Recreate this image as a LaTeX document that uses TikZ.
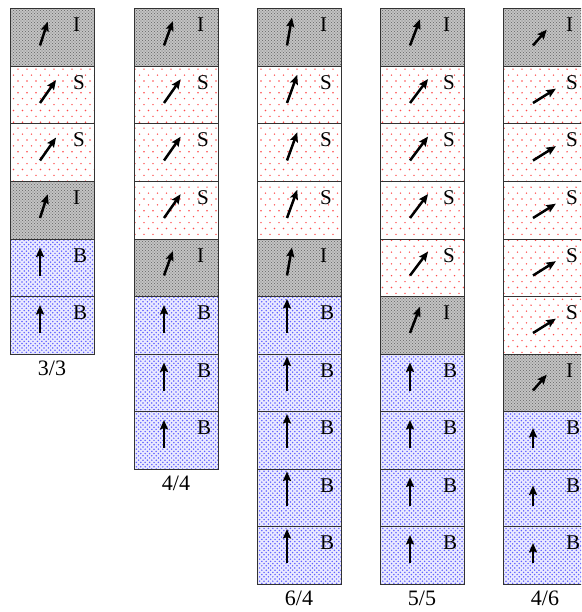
\documentclass[tikz,border=0pt]{standalone}
\usepackage{fontspec}
\setmainfont{Liberation Serif}
\usetikzlibrary{arrows.meta,calc,patterns.meta}

% dot fills for the three kinds of layer
\tikzdeclarepattern{name=fine dots, type=uncolored,
  bounding box={(-1pt,-1pt) and (2.5pt,2.5pt)}, tile size={(3pt,3pt)},
  code={\fill (0pt,0pt) circle (0.6pt); \fill (1.5pt,1.5pt) circle (0.6pt);}}
\tikzdeclarepattern{name=medium dots, type=uncolored,
  bounding box={(-1pt,-1pt) and (3.5pt,3.5pt)}, tile size={(4.4pt,4.4pt)},
  code={\fill (0pt,0pt) circle (0.85pt); \fill (2.2pt,2.2pt) circle (0.85pt);}}
\tikzdeclarepattern{name=sparse dots, type=uncolored,
  bounding box={(-1pt,-1pt) and (5.5pt,7pt)}, tile size={(9pt,11.8pt)},
  code={\fill (0pt,0pt) circle (0.8pt); \fill (4.5pt,5.9pt) circle (0.8pt);}}

\begin{document}
\begin{tikzpicture}[x=1pt, y=1pt,
  cell/.style={draw=black!80, line width=1pt, minimum width=84pt, minimum height=57.5pt,
    anchor=north west, inner sep=0pt, outer sep=0pt},
  I-cell/.style={preaction={fill=black!22}, pattern={fine dots}, pattern color=black!55},
  S-cell/.style={preaction={fill=white}, pattern={sparse dots}, pattern color=red!70},
  B-cell/.style={preaction={fill=blue!8}, pattern={medium dots}, pattern color=blue!62},
  tag/.style={font=\fontsize{21}{23}\selectfont, anchor=base west, inner sep=0pt},
  caption/.style={font=\fontsize{22}{24}\selectfont, anchor=base, inner sep=0pt},
  spin/.style={-{Stealth[length=9.5pt,width=8pt,inset=1.5pt]}, line width=2.5pt},
]
  \useasboundingbox (0,0) rectangle (581,-612);
  \clip (0,0) rectangle (581,-612);

  % column / left edge / layers / count / caption / angle and length of I, S, B
  \foreach \col/\x/\kinds/\nb/\fa/\fb/\aI/\lI/\aS/\lS/\lB in {
    1/10/{I,S,S,I,B,B}/6/3/3/72/25/55/28/28,
    2/134/{I,S,S,S,I,B,B,B}/8/4/4/70/26/55/29/28,
    3/257/{I,S,S,S,I,B,B,B,B,B}/10/6/4/80/28.5/70/30/34,
    4/380/{I,S,S,S,S,I,B,B,B,B}/10/5/5/69/28/53/30/28,
    5/503/{I,S,S,S,S,S,I,B,B,B}/10/4/6/49/21/32/27/20}
  {
    \edef\angI{\aI}\edef\lenI{\lI}
    \edef\angS{\aS}\edef\lenS{\lS}
    \def\angB{90}\edef\lenB{\lB}
    \foreach \kind [count=\n] in \kinds {
      \edef\spinang{\csname ang\kind\endcsname}
      \edef\spinlen{\csname len\kind\endcsname}
      \node[cell, \kind-cell] (c\col-\n) at (\x, {-9-57.5*(\n-1)}) {};
      \node[tag] (t\col-\n) at ($(c\col-\n.north west)+(63,-23)$) {\kind};
      \coordinate (a\col-\n) at ($(c\col-\n.north west)+(30,-36.5)$);
      \draw[spin] (a\col-\n) -- ++(\spinang:\spinlen);
    }
    \node[caption] (lab\col) at ($(c\col-\nb.south)+(0,-21.5)$) {\fa/\fb};
  }
\end{tikzpicture}
\end{document}
